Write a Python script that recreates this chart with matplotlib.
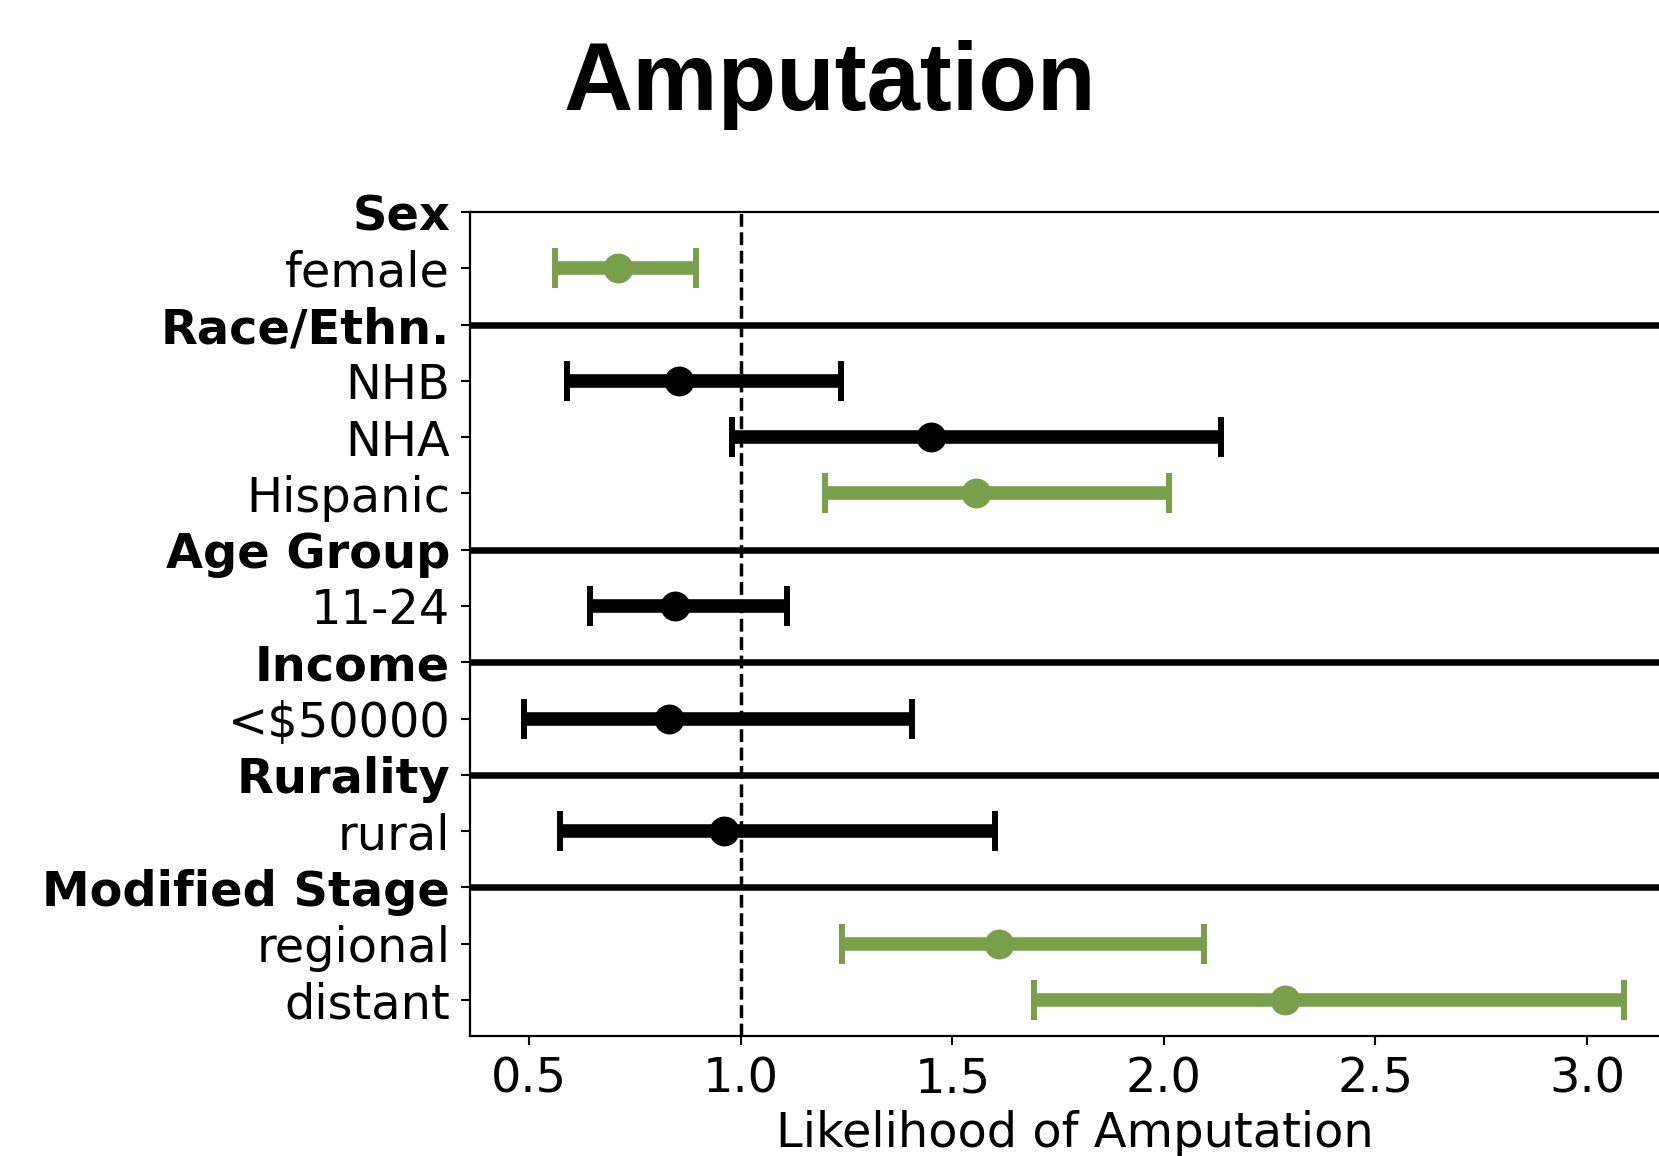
import numpy as np
import matplotlib.pyplot as plt

# rows from top to bottom, headers are bold and carry a separator line
row_labels = ["Sex", "female", "Race/Ethn.", "NHB", "NHA", "Hispanic",
              "Age Group", "11-24", "Income", "<$50000", "Rurality", "rural",
              "Modified Stage", "regional", "distant"]
headers = ["Sex", "Race/Ethn.", "Age Group", "Income", "Rurality", "Modified Stage"]

groups = ["female", "NHB", "NHA", "Hispanic", "11-24", "<$50000", "rural",
          "regional", "distant"]
estimate = [0.71, 0.855, 1.45, 1.555, 0.845, 0.83, 0.96, 1.61, 2.287]
lower = [0.562, 0.59, 0.98, 1.20, 0.643, 0.488, 0.573, 1.24, 1.694]
upper = [0.893, 1.238, 2.135, 2.012, 1.11, 1.405, 1.60, 2.095, 3.087]
significant = [True, False, False, True, False, False, False, True, True]

GREEN = "#78a04b"
FS = 34.5

fig = plt.figure(figsize=(16.59, 11.56), dpi=100)
ax = fig.add_axes([0.2833, 0.1038, 0.7294, 0.7128])

ypos = {lab: i for i, lab in enumerate(row_labels)}

for g, est, lo, hi, sig in zip(groups, estimate, lower, upper, significant):
    col = GREEN if sig else "black"
    ax.errorbar(est, ypos[g], xerr=[[est - lo], [hi - est]], fmt="o",
                color=col, ms=20.5, elinewidth=9.8, capsize=14.5, capthick=4.3,
                zorder=3)

# separators under each header (first one sits on the top spine)
for h in headers[1:]:
    ax.axhline(ypos[h], color="black", lw=4.7, zorder=2)

ax.axvline(1.0, color="black", ls="--", lw=2.5, zorder=1)

ax.set_xlim(0.36, 3.22)
ax.set_ylim(14.64, 0)
ax.set_yticks(range(len(row_labels)))
ax.set_yticklabels(row_labels)
for t in ax.get_yticklabels():
    if t.get_text() in headers:
        t.set_fontweight("bold")
ax.set_xticks([0.5, 1.0, 1.5, 2.0, 2.5, 3.0])
ax.tick_params(labelsize=FS, length=6.3, width=1.5, pad=8)
for s in ax.spines.values():
    s.set_linewidth(1.6)

ax.set_xlabel("Likelihood of Amputation", fontsize=FS, labelpad=5)

fig.text(0.5, 0.905, "Amputation", ha="center", va="baseline",
         fontsize=69, fontweight="bold", family="Liberation Sans")

fig.savefig("out.png", dpi=100)
